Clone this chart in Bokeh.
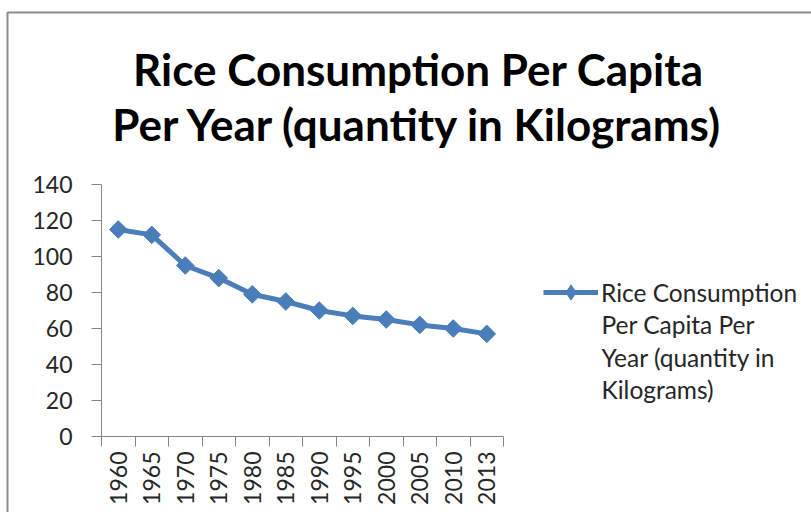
import math

from bokeh.embed import file_html
from bokeh.models import (BoxAnnotation, FixedTicker, Label, Legend, LegendItem,
                          Range1d, SingleIntervalTicker)
from bokeh.plotting import figure
from bokeh.resources import INLINE

# Rice consumption per capita per year (kg)
years = ["1960", "1965", "1970", "1975", "1980", "1985",
         "1990", "1995", "2000", "2005", "2010", "2013"]
consumption = [115, 112, 95, 88, 79, 75, 70, 67, 65, 62, 60, 57]
title_lines = ["Rice Consumption Per Capita", "Per Year (quantity in Kilograms)"]
legend_lines = ["Rice Consumption", "Per Capita Per", "Year (quantity in", "Kilograms)"]
y_max = 140

BLUE = "#4a7ebb"
AXIS = "#868686"
TEXT = "#262626"
FONT = "Lato"

W, H = 811, 512
# plot area inside the canvas, in pixels
AX_LEFT, AX_RIGHT, AX_TOP, AX_BOTTOM = 101, 503, 184, 436

n = len(years)
# each category occupies two units; points sit at odd positions, boundaries at even ones
xs = [2 * i + 1 for i in range(n)]
x_per_px = 2 * n / (AX_RIGHT - AX_LEFT)
y_per_px = y_max / (AX_BOTTOM - AX_TOP)

p = figure(width=W, height=H, output_backend="svg", toolbar_location=None,
           x_range=Range1d(-AX_LEFT * x_per_px, (W - AX_LEFT) * x_per_px),
           y_range=Range1d(-(H - AX_BOTTOM) * y_per_px, AX_BOTTOM * y_per_px),
           min_border=0)
p.outline_line_color = None
p.grid.visible = False
p.background_fill_color = "white"
p.border_fill_color = "white"

line = p.line(xs, consumption, line_color=BLUE, line_width=5)
marks = p.scatter(xs, consumption, marker="square", size=12.5, angle=math.pi / 4,
                  fill_color=BLUE, line_color=BLUE)
# diamond used as the legend key (hidden in the plot itself)
key_mark = p.scatter(xs[:1], consumption[:1], marker="diamond",
                     fill_color=BLUE, line_color=BLUE, visible=False)

# x axis: ticks at category boundaries, labels at category centres
xax = p.xaxis[0]
xax.fixed_location = 0
xax.bounds = (0, 2 * n)
xax.ticker = FixedTicker(ticks=xs, minor_ticks=list(range(0, 2 * n + 1, 2)))
xax.major_label_overrides = {x: y for x, y in zip(xs, years)}
xax.major_tick_in = 0
xax.major_tick_out = 0
xax.minor_tick_in = 0
xax.minor_tick_out = 10
xax.major_label_orientation = math.pi / 2
xax.major_label_standoff = 5

yax = p.yaxis[0]
yax.fixed_location = 0
yax.bounds = (0, y_max)
yax.ticker = SingleIntervalTicker(interval=20, num_minor_ticks=0)
yax.major_tick_in = 0
yax.major_tick_out = 10
yax.minor_tick_out = 0
yax.major_label_standoff = 19

for ax in (xax, yax):
    ax.axis_line_color = AXIS
    ax.major_tick_line_color = AXIS
    ax.minor_tick_line_color = AXIS
    ax.major_label_text_color = TEXT
    ax.major_label_text_font = FONT
    ax.major_label_text_font_size = "23px"

# chart title, two centred lines
for text, sy in zip(title_lines, [H - 68, H - 123]):
    p.add_layout(Label(x=418, y=sy, x_units="screen", y_units="screen", text=text,
                       text_align="center", text_baseline="middle",
                       text_font=FONT, text_font_style="bold",
                       text_font_size="44px", text_color="black"))

# legend: key on the first line, the remaining lines wrap beneath it
legend = Legend(items=[LegendItem(label=legend_lines[0], renderers=[line, key_mark])],
                location=(543, H - 311), padding=0, margin=0, glyph_width=55,
                glyph_height=38, label_standoff=3, border_line_alpha=0,
                background_fill_alpha=0, inactive_fill_alpha=0,
                label_text_font=FONT, label_text_font_size="24.5px",
                label_text_color=TEXT)
p.add_layout(legend, "center")
for i, text in enumerate(legend_lines[1:], start=1):
    p.add_layout(Label(x=601, y=H - 292 - 32.3 * i, x_units="screen", y_units="screen",
                       text=text, text_align="left", text_baseline="middle",
                       text_font=FONT, text_font_size="24.5px", text_color=TEXT))

# chart area border
p.add_layout(BoxAnnotation(left=7, right=W + 50, top=H - 12, bottom=-50,
                           left_units="screen", right_units="screen",
                           top_units="screen", bottom_units="screen",
                           fill_alpha=0, line_color="#8c8c8c", line_alpha=1,
                           line_width=2))

open("out.html", "w").write(file_html(p, INLINE))
